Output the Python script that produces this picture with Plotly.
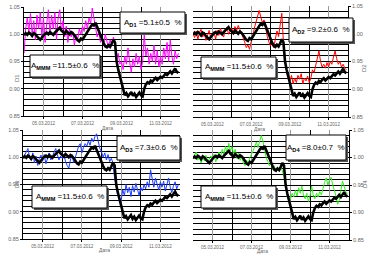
import plotly.graph_objects as go
import pandas as pd

W, H = 376, 261

# 2-hour samples from 04.03.2012 00:00 to 11.03.2012 22:00
times = pd.date_range('2012-03-04', periods=96, freq='2h')

mmm = [
    0.998, 1.002, 0.999, 1.003, 1.001, 0.997, 1.002, 1.000, 0.996, 0.993, 0.990, 0.994,
    0.998, 1.001, 1.003, 1.000, 1.004, 1.002, 0.999, 1.003, 1.006, 1.010, 1.012, 1.007,
    1.004, 1.001, 1.006, 1.003, 1.000, 1.004, 1.002, 0.998, 0.993, 0.989, 0.987, 0.992,
    0.990, 0.995, 1.000, 1.006, 1.010, 1.014, 1.018, 1.016, 1.021, 1.013, 1.005, 0.998,
    0.990, 0.984, 0.978, 0.976, 0.980, 0.977, 0.983, 0.990, 0.985, 0.950, 0.935, 0.922,
    0.910, 0.895, 0.888, 0.892, 0.886, 0.890, 0.894, 0.887, 0.891, 0.885, 0.889, 0.893,
    0.888, 0.886, 0.900, 0.908, 0.912, 0.910, 0.915, 0.913, 0.917, 0.920, 0.916, 0.919,
    0.922, 0.920, 0.924, 0.927, 0.925, 0.929, 0.932, 0.928, 0.934, 0.937, 0.931, 0.929,
]

d1 = [
    0.965, 1.010, 1.030, 1.005, 1.038, 1.000, 1.025, 0.990, 1.035, 1.010, 1.040, 0.995,
    1.030, 0.985, 1.020, 1.045, 1.000, 1.035, 1.010, 1.040, 0.990, 1.030, 1.045, 1.005,
    1.025, 0.995, 1.015, 0.985, 1.010, 0.995, 1.005, 0.980, 1.000, 0.990, 1.010, 1.000,
    1.015, 1.005, 1.025, 1.010, 1.030, 1.020, 1.048, 1.030, 1.010, 0.995, 1.005, 0.985,
    0.995, 0.980, 1.000, 0.985, 0.975, 0.990, 0.980, 0.995, 0.985, 0.955, 0.965, 0.945,
    0.950, 0.935, 0.960, 0.945, 0.975, 0.950, 0.930, 0.955, 0.940, 0.965, 0.945, 0.960,
    0.935, 0.950, 1.000, 0.960, 0.975, 0.945, 0.965, 0.950, 0.980, 0.945, 0.970, 0.940,
    0.960, 0.945, 0.975, 0.955, 0.985, 0.950, 0.990, 0.960, 0.945, 0.970, 0.955, 0.965,
]

d2 = [
    1.000, 0.993, 1.005, 0.990, 1.002, 1.008, 0.994, 1.003, 0.988, 0.996, 1.006, 0.992,
    0.998, 1.004, 0.990, 1.006, 0.997, 1.010, 1.000, 0.994, 1.008, 1.012, 0.999, 1.006,
    1.010, 1.002, 1.013, 1.005, 1.015, 1.008, 1.002, 0.993, 0.985, 0.975, 0.980, 0.972,
    0.985, 0.995, 1.010, 1.020, 1.032, 1.042, 1.030, 1.020, 1.025, 1.008, 0.995, 0.985,
    0.978, 0.985, 0.975, 0.990, 1.005, 0.995, 1.020, 1.037, 0.985, 0.953, 0.930, 0.918,
    0.915, 0.925, 0.910, 0.920, 0.912, 0.925, 0.918, 0.928, 0.910, 0.920, 0.915, 0.924,
    0.912, 0.920, 0.935, 0.930, 0.945, 0.955, 0.969, 0.950, 0.940, 0.945, 0.938, 0.948,
    0.940, 0.950, 0.945, 0.958, 0.969, 0.955, 0.945, 0.950, 0.940, 0.945, 0.938, 0.935,
]

d3 = [
    0.998, 1.005, 1.012, 1.016, 1.000, 0.995, 1.008, 0.990, 1.002, 0.985, 0.998, 1.004,
    0.993, 1.005, 0.988, 1.000, 1.008, 0.995, 1.003, 1.010, 1.016, 1.005, 0.995, 1.002,
    0.998, 1.006, 0.992, 0.985, 0.980, 0.995, 1.005, 0.990, 1.000, 1.010, 1.020, 1.025,
    1.008, 1.018, 1.025, 1.020, 1.030, 1.022, 1.035, 1.028, 1.038, 1.043, 1.030, 1.016,
    1.010, 1.000, 1.008, 0.995, 1.005, 0.992, 0.998, 0.990, 0.962, 0.945, 0.932, 0.925,
    0.920, 0.940, 0.930, 0.950, 0.935, 0.945, 0.928, 0.948, 0.936, 0.952, 0.940, 0.930,
    0.945, 0.938, 0.950, 0.942, 0.955, 0.945, 0.977, 0.958, 0.945, 0.962, 0.950, 0.940,
    0.955, 0.945, 0.956, 0.938, 0.950, 0.962, 0.945, 0.935, 0.948, 0.955, 0.942, 0.950,
]

d4 = [
    0.998, 1.005, 1.010, 0.995, 1.002, 0.990, 1.000, 0.994, 1.004, 0.992, 0.998, 1.003,
    0.996, 1.006, 0.992, 1.000, 1.010, 1.002, 1.015, 1.005, 1.020, 1.008, 1.026, 1.012,
    1.020, 1.005, 1.015, 0.998, 1.008, 0.995, 1.002, 0.990, 0.985, 0.995, 0.988, 1.000,
    1.005, 1.012, 1.020, 1.028, 1.018, 1.032, 1.040, 1.030, 1.015, 1.000, 0.993, 0.985,
    0.990, 0.978, 0.985, 0.975, 0.982, 0.978, 0.985, 0.975, 0.965, 0.950, 0.930, 0.920,
    0.925, 0.935, 0.928, 0.940, 0.930, 0.945, 0.935, 0.948, 0.932, 0.925, 0.935, 0.920,
    0.930, 0.948, 0.932, 0.925, 0.935, 0.928, 0.938, 0.932, 0.945, 0.955, 0.963, 0.950,
    0.960, 0.964, 0.950, 0.940, 0.930, 0.915, 0.922, 0.940, 0.957, 0.948, 0.938, 0.933,
]

tick_dates = ['2012-03-05', '2012-03-07', '2012-03-09', '2012-03-11']
tick_text = ['05.03.2012', '07.03.2012', '09.03.2012', '11.03.2012']
y_ticks = [0.85, 0.90, 0.95, 1.00, 1.05]
amp_mmm = 'A<sub><b>MMM</b></sub> =11.5±0.6  %'

panels = [
    dict(label='D1', s=d1, color='#FF00FF', amp='A<sub><b>D1</b></sub> =5.1±0.5  %',
         px=(24, 180), py=(7, 116), side='left', lab=(12, 72), xt=(100, 128),
         box1=(120, 12, 185, 33), box2=(30, 55, 100, 77)),
    dict(label='D2', s=d2, color='#FF0000', amp='A<sub><b>D2</b></sub> =9.2±0.6  %',
         px=(193, 348), py=(6, 117), side='right', lab=(369, 62), xt=(267, 129),
         box1=(289, 18, 353, 42), box2=(201, 57, 276, 78)),
    dict(label='D3', s=d3, color='#1E3CFF', amp='A<sub><b>D3</b></sub> =7.3±0.6  %',
         px=(23, 180), py=(130, 239), side='left', lab=(12, 190), xt=(97, 255),
         box1=(117, 136, 180, 160), box2=(32, 186, 107, 208)),
    dict(label='D4', s=d4, color='#33EE22', amp='A<sub><b>D4</b></sub> =8.0±0.7  %',
         px=(193, 349), py=(130, 240), side='right', lab=(370, 190), xt=(270, 256),
         box1=(286, 135, 346, 160), box2=(201, 186, 276, 208)),
]

fig = go.Figure()
annotations = []
shapes = []
gray = '#666666'
FONT = 'Liberation Sans, Arial, sans-serif'


def px2paper(x, y):
    return x / W, 1 - y / H


for i, p in enumerate(panels, start=1):
    xa = 'x' if i == 1 else f'x{i}'
    ya = 'y' if i == 1 else f'y{i}'
    fig.add_trace(go.Scatter(x=times, y=p['s'], mode='lines', xaxis=xa, yaxis=ya,
                             line=dict(color=p['color'], width=1), showlegend=False))
    fig.add_trace(go.Scatter(x=times, y=mmm, mode='lines', xaxis=xa, yaxis=ya,
                             line=dict(color='black', width=2.6), showlegend=False))
    xd = [p['px'][0] / W, p['px'][1] / W]
    yd = [1 - p['py'][1] / H, 1 - p['py'][0] / H]
    xkey = 'xaxis' if i == 1 else f'xaxis{i}'
    ykey = 'yaxis' if i == 1 else f'yaxis{i}'
    fig.update_layout({
        xkey: dict(domain=xd, anchor=ya, type='date',
                   range=['2012-03-04', '2012-03-12'],
                   tickmode='array', tickvals=tick_dates, ticktext=tick_text,
                   tickfont=dict(size=4.6, color=gray, family=FONT),
                   showgrid=True, gridcolor='#9a9a9a', gridwidth=0.6,
                   minor=dict(tickmode='linear', tick0='2012-03-06', dtick=2 * 86400000,
                              showgrid=True, gridcolor='black', gridwidth=1.2,
                              ticks=''),
                   showline=True, linecolor='black', linewidth=1,
                   ticks='outside', ticklen=2, tickcolor='black',
                   zeroline=False, automargin=False, fixedrange=True),
        ykey: dict(domain=yd, anchor=xa, side=p['side'], range=[0.85, 1.05],
                   tickmode='array', tickvals=y_ticks, tickformat='.2f',
                   tickfont=dict(size=5.5, color=gray, family=FONT),
                   showgrid=True, gridcolor='black', gridwidth=1,
                   minor=dict(dtick=0.01, tick0=0.85, showgrid=True,
                              gridcolor='black', gridwidth=1, ticks=''),
                   showline=True, linecolor='black', linewidth=1,
                   ticks='outside', ticklen=2, tickcolor='black',
                   zeroline=False, automargin=False, fixedrange=True),
    })
    # axis titles
    lx, ly = px2paper(*p['lab'])
    annotations.append(dict(text=p['label'], x=lx, y=ly,
                            xref='paper', yref='paper', showarrow=False, textangle=-90,
                            font=dict(size=6, color=gray, family=FONT)))
    tx, ty = px2paper(*p['xt'])
    annotations.append(dict(text='Дата', x=tx, y=ty,
                            xref='paper', yref='paper', showarrow=False,
                            font=dict(size=5, color=gray, family=FONT)))
    # boxes with drop shadows
    for box, txt in [(p['box1'], p['amp']), (p['box2'], amp_mmm)]:
        x0, y0, x1, y1 = box
        sx0, sy0 = px2paper(x0 + 2, y0 + 2)
        sx1, sy1 = px2paper(x1 + 2, y1 + 2)
        shapes.append(dict(type='rect', xref='paper', yref='paper',
                           x0=sx0, x1=sx1, y0=sy1, y1=sy0,
                           fillcolor='#555555', line=dict(width=0), layer='above'))
        bx0, by0 = px2paper(x0, y0)
        bx1, by1 = px2paper(x1, y1)
        shapes.append(dict(type='rect', xref='paper', yref='paper',
                           x0=bx0, x1=bx1, y0=by1, y1=by0,
                           fillcolor='white', line=dict(color='black', width=1),
                           layer='above'))
        cx, cy = px2paper((x0 + x1) / 2, (y0 + y1) / 2)
        annotations.append(dict(text=txt, x=cx, y=cy, xref='paper', yref='paper',
                                xanchor='center', yanchor='middle', showarrow=False,
                                font=dict(size=8, color='black', family=FONT)))

fig.update_layout(width=W, height=H, margin=dict(l=0, r=0, t=0, b=0),
                  paper_bgcolor='white', plot_bgcolor='white',
                  annotations=annotations, shapes=shapes, showlegend=False)

fig.write_html('out.html', config={'displayModeBar': False})
